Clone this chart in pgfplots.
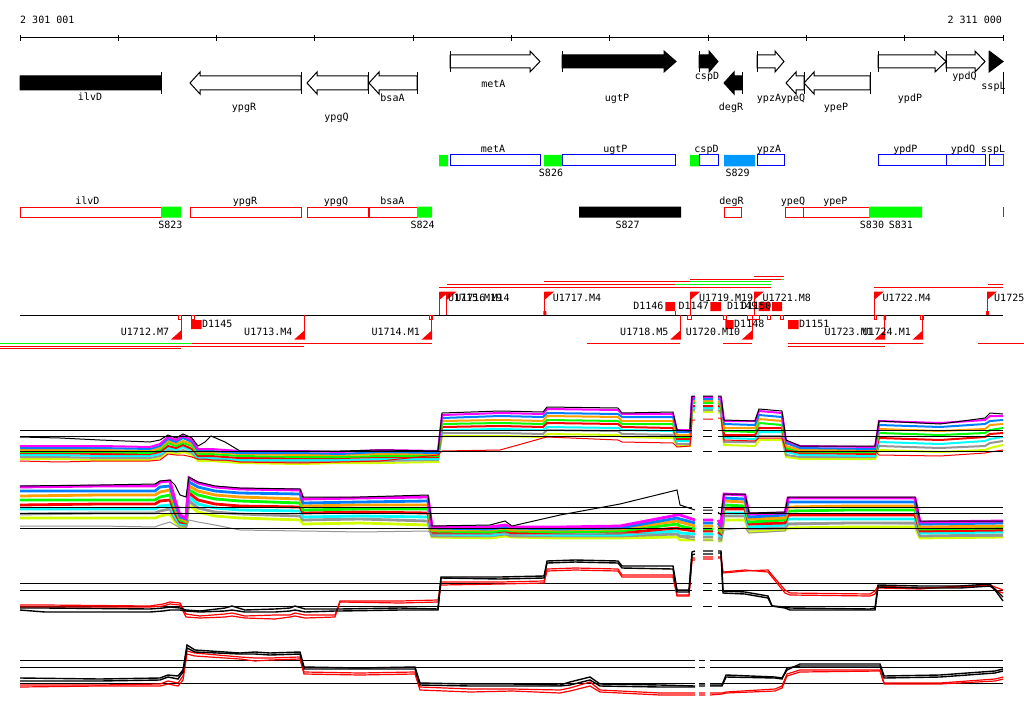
\documentclass[border=0pt]{standalone}
\usepackage{pgfplots}
\usepackage{pgfplotstable}
\usepackage{fontspec}
\setmonofont{DejaVu Sans Mono}
\pgfplotsset{compat=1.18}
\definecolor{cmag}{RGB}{255,0,255}
\definecolor{clime}{RGB}{0,255,0}
\definecolor{cblu}{RGB}{0,128,255}
\definecolor{corg}{RGB}{255,160,0}
\definecolor{cred}{RGB}{255,0,0}
\definecolor{ccyn}{RGB}{0,255,255}
\definecolor{cgry}{RGB}{150,150,150}
\definecolor{cylw}{RGB}{210,255,0}
\definecolor{cgbl}{RGB}{0,0,255}
\definecolor{csky}{RGB}{0,153,255}
\tikzset{lab/.style={font=\fontsize{10}{12}\selectfont\ttfamily, inner sep=0pt}}

\pgfplotstableread{
x k b1 b2 b3 b4 b5 b6 b7 b8 r
20 437 446 448 450 452 453 455 457 459 461
60 438 446 448 450 452 453 455 457 459 462
100 440 446 448 450 452 454 456 458 460 461
150 442 447 449 451 453 454 456 458 460 461
160 440 444 446 448 450 452 454 456 458 460
168 435 437 439 441 443 446 448 450 452 454
176 438 440 442 444 446 448 450 452 454 455
183 434 436 438 441 443 445 447 450 452 455
192 438 440 442 444 446 449 451 453 455 457
198 446 449 451 452 454 456 458 459 461 459
205 442 449 451 452 454 456 458 459 461 459
211 436 449 451 452 454 456 458 459 461 460
225 442 450 452 453 455 457 459 460 462 460
240 451 451 453 454 456 458 460 461 463 462
300 451 451 453 455 457 458 460 462 464 463
340 451 452 454 455 457 458 460 461 463 462
380 450 450 452 454 456 457 459 461 463 461
438 451 451 453 454 456 457 459 460 462 455
442 413 415 418 421 424 427 430 433 436 451
500 411 413 416 420 423 426 429 433 436 450
543 412 414 417 421 424 427 430 434 437 438
547 407 409 413 416 420 423 427 430 434 437
618 408 410 414 417 421 424 428 431 435 440
622 413 414 417 421 424 427 430 434 437 442
673 412 414 417 421 424 428 431 435 438 443
677 430 430 432 435 437 439 441 444 446 447
690 431 430 432 435 437 439 441 444 446 446
692 396 397 399 401 403 406 408 410 412 420
695 396 397 399 401 403 406 408 410 412 420
699 nan nan nan nan nan nan nan nan nan nan
703 396 397 399 401 403 406 408 410 412 419
713 396 397 399 401 403 406 408 410 412 419
715 nan nan nan nan nan nan nan nan nan nan
718 396 397 399 401 403 406 408 410 412 418
721 396 398 400 403 405 407 409 412 414 418
724 420 421 424 428 431 435 438 442 445 440
755 421 421 425 428 432 435 439 442 446 441
759 409 411 415 419 423 428 432 436 440 438
782 411 413 417 421 425 428 432 436 440 438
786 440 441 443 446 448 450 452 455 457 450
800 446 446 448 450 452 453 455 457 459 452
875 446 447 449 450 452 454 456 457 459 451
879 421 421 425 429 433 438 442 446 450 455
940 424 423 427 431 435 440 444 448 452 456
985 418 420 424 429 433 437 441 446 450 453
990 413 416 421 425 430 434 439 443 448 452
1003 414 416 420 424 428 433 437 441 445 450
}\tone

\pgfplotstableread{
x k b1 b2 b3 b4 b5 b6 b7 b8 r
20 486 487 491 496 500 505 509 514 518 526
100 485 486 491 495 500 504 509 513 518 526
155 484 486 491 495 500 504 509 513 518 527
160 481 482 487 492 497 501 506 511 516 525
170 480 481 486 490 495 500 505 509 514 522
175 485 500 503 506 509 513 516 519 522 525
180 495 515 517 518 520 522 524 525 527 528
186 497 518 519 521 522 523 524 526 527 528
189 477 478 482 486 490 493 497 501 505 520
198 482 483 487 491 495 500 504 508 512 522
215 486 487 491 495 499 504 508 512 516 525
240 488 489 493 497 501 506 510 514 518 530
300 489 490 494 499 503 507 511 516 520 531
303 497 499 503 506 510 513 517 520 524 531
360 497 498 502 505 509 512 516 519 523 532
428 495 497 501 505 509 513 517 521 525 531
432 526 527 528 530 531 533 534 536 537 534
490 525 527 529 530 532 533 535 536 538 534
505 521 525 527 528 530 531 533 534 536 533
512 526 527 528 530 531 533 534 536 537 535
560 515 527 529 530 532 533 535 536 538 534
620 504 526 528 529 531 533 535 536 538 533
677 490 515 518 521 524 528 531 534 537 535
680 505 515 519 522 526 529 533 536 540 537
695 510 520 523 526 529 531 534 537 540 540
699 nan nan nan nan nan nan nan nan nan nan
703 510 520 523 526 529 531 534 537 540 540
713 510 520 523 526 529 531 534 537 540 540
715 nan nan nan nan nan nan nan nan nan nan
718 512 520 523 526 529 532 535 538 541 541
721 515 525 527 530 532 534 536 539 541 541
724 494 494 498 501 505 509 513 516 520 530
745 494 495 499 502 506 509 513 516 520 528
749 513 514 517 519 522 524 527 529 532 533
785 512 513 515 518 520 523 525 528 530 531
788 497 498 502 507 511 515 519 524 528 523
850 497 498 502 506 510 515 519 523 527 523
915 497 498 502 506 510 515 519 523 527 524
920 521 522 524 527 529 531 533 536 538 536
1003 521 521 523 526 528 530 532 535 537 536
}\ttwo

\pgfplotstableread{
x k1 k2 r1 r2
20 608 610 605 607
45 608 612 605 607
150 609 612 606 607
163 608 611 604 606
170 607 610 602 604
180 608 610 603 605
186 610 611 614 617
200 611 612 616 618
225 608 611 614 617
232 606 610 613 616
245 610 612 616 618
275 609 612 615 619
290 608 611 615 617
295 606 610 613 616
305 609 612 615 618
335 609 611 615 617
340 609 611 601 602
400 608 610 601 603
438 609 610 600 602
441 578 577 582 585
500 579 577 582 584
544 578 576 581 583
547 561 563 569 571
575 560 562 568 570
618 561 563 569 571
622 566 568 575 577
673 566 569 575 577
677 590 592 595 596
689 590 592 595 596
692 552 555 558 560
695 551 554 558 560
699 nan nan nan nan
703 551 554 557 559
713 551 554 557 559
715 nan nan nan nan
718 551 553 557 558
721 551 553 557 558
723 591 593 573 572
745 592 594 571 570
768 596 598 570 572
772 606 606 575 577
785 607 608 590 593
790 608 610 593 595
870 609 610 594 596
875 608 610 591 594
878 585 587 586 588
920 586 588 588 589
960 586 588 587 586
990 584 586 585 586
995 590 589 587 590
1003 601 597 590 593
}\tthree

\pgfplotstableread{
x k1 k2 r1 r2
20 678 681 685 687
100 679 681 685 686
160 678 680 684 686
168 675 677 681 684
178 676 679 683 686
183 670 672 676 680
187 645 648 651 654
195 650 652 653 656
240 653 654 657 659
255 652 654 658 661
270 653 655 658 660
300 652 654 657 659
304 667 669 672 674
360 668 669 673 675
415 667 669 672 674
420 683 685 687 690
470 684 686 689 692
512 684 686 689 691
560 685 686 690 693
570 682 685 688 691
590 677 680 682 686
600 684 686 690 692
660 685 687 693 695
695 686 687 693 695
697 nan nan nan nan
699 684 686 693 695
705 684 686 693 695
707 nan nan nan nan
710 685 686 693 695
722 685 686 693 694
726 675 677 692 693
775 677 678 689 691
782 678 679 686 688
787 670 668 674 676
800 664 666 670 672
880 664 666 670 671
884 676 678 683 684
940 675 677 683 684
995 671 673 679 681
1003 669 671 677 679
}\tfour

\begin{document}
\begin{tikzpicture}
\begin{axis}[scale only axis, width=1024pt, height=714pt,
  xmin=0, xmax=1024, ymin=0, ymax=714, y dir=reverse,
  hide axis, clip=false, unbounded coords=jump, no markers]

% background
\addplot[fill=white, draw=none] coordinates {(0,0)(1024,0)(1024,714)(0,714)(0,0)};

% ruler
\addplot[black, line width=1pt] coordinates {(20,38)(1003,38)};
\addplot[black, line width=1pt] coordinates {(20,35)(20,41.5)(0,nan)(118.3,35)(118.3,41.5)(0,nan)(216.6,35)(216.6,41.5)(0,nan)(314.9,35)(314.9,41.5)(0,nan)(413.2,35)(413.2,41.5)(0,nan)(511.5,35)(511.5,41.5)(0,nan)(609.8,35)(609.8,41.5)(0,nan)(708.1,35)(708.1,41.5)(0,nan)(806.4,35)(806.4,41.5)(0,nan)(904.7,35)(904.7,41.5)(0,nan)(1003,35)(1003,41.5)};
\node[lab, anchor=base west] at (axis cs:20,24) {2 301 001};
\node[lab, anchor=base east] at (axis cs:1002,24) {2 311 000};

% gene arrows: white
\addplot[fill=white, draw=black, line width=1pt] coordinates {
(450,55)(530,55)(530,51)(540,61.5)(530,72)(530,68)(450,68)(450,55)(0,nan)
(757,55)(775,55)(775,51)(784,61.5)(775,72)(775,68)(757,68)(757,55)(0,nan)
(878,55)(935,55)(935,51)(946,61.5)(935,72)(935,68)(878,68)(878,55)(0,nan)
(946,55)(975,55)(975,51)(985,61.5)(975,72)(975,68)(946,68)(946,55)(0,nan)
(301,76)(200,76)(200,72)(190,83)(200,94)(200,90)(301,90)(301,76)(0,nan)
(368,76)(317,76)(317,72)(307,83)(317,94)(317,90)(368,90)(368,76)(0,nan)
(417,76)(379,76)(379,72)(369,83)(379,94)(379,90)(417,90)(417,76)(0,nan)
(804,76)(796,76)(796,72)(786,83)(796,94)(796,90)(804,90)(804,76)(0,nan)
(870,76)(814,76)(814,72)(804,83)(814,94)(814,90)(870,90)(870,76)};
% gene arrows: black
\addplot[fill=black, draw=black, line width=1pt] coordinates {
(562,55)(664,55)(664,51)(676,61.5)(664,72)(664,68)(562,68)(562,55)(0,nan)
(699,55)(709,55)(709,51)(718,61.5)(709,72)(709,68)(699,68)(699,55)(0,nan)
(989,51)(1003,61.5)(989,72)(989,51)(0,nan)
(20,76)(161,76)(161,90)(20,90)(20,76)(0,nan)
(742,76)(734,76)(734,72)(724,83)(734,94)(734,90)(742,90)(742,76)};
% start bars
\addplot[black, line width=1pt] coordinates {
(450,51)(450,72)(0,nan)(562,51)(562,72)(0,nan)(699,51)(699,72)(0,nan)(757,51)(757,72)(0,nan)(878,51)(878,72)(0,nan)(946,51)(946,72)(0,nan)
(161,72)(161,94)(0,nan)(301,72)(301,94)(0,nan)(368,72)(368,94)(0,nan)(417,72)(417,94)(0,nan)(742,72)(742,94)(0,nan)(804,72)(804,94)(0,nan)(870,72)(870,94)(0,nan)(1003,72)(1003,94)};
\node[lab, anchor=base] at (axis cs:90,100.7) {ilvD};
\node[lab, anchor=base] at (axis cs:244,110.7) {ypgR};
\node[lab, anchor=base] at (axis cs:336.5,120.7) {ypgQ};
\node[lab, anchor=base] at (axis cs:392.5,101.7) {bsaA};
\node[lab, anchor=base] at (axis cs:493.3,88) {metA};
\node[lab, anchor=base] at (axis cs:617,101.7) {ugtP};
\node[lab, anchor=base] at (axis cs:707,80) {cspD};
\node[lab, anchor=base] at (axis cs:731,111) {degR};
\node[lab, anchor=base] at (axis cs:769,101.7) {ypzA};
\node[lab, anchor=base] at (axis cs:793,101.7) {ypeQ};
\node[lab, anchor=base] at (axis cs:836,111) {ypeP};
\node[lab, anchor=base] at (axis cs:910,101.7) {ypdP};
\node[lab, anchor=base] at (axis cs:964.5,79.7) {ypdQ};
\node[lab, anchor=base] at (axis cs:993.5,89.5) {sspL};

% row 2
\addplot[draw=cgbl, line width=1pt] coordinates {
(450,155)(540,155)(540,166)(450,166)(450,155)(0,nan)
(562,155)(675,155)(675,166)(562,166)(562,155)(0,nan)
(699,155)(718,155)(718,166)(699,166)(699,155)(0,nan)
(757,155)(784,155)(784,166)(757,166)(757,155)(0,nan)
(878,155)(946,155)(946,166)(878,166)(878,155)(0,nan)
(946,155)(985,155)(985,166)(946,166)(946,155)(0,nan)
(989,155)(1003,155)(1003,166)(989,166)(989,155)};
\addplot[fill=clime, draw=none] coordinates {
(439,155)(448,155)(448,166.5)(439,166.5)(439,155)(0,nan)
(544,155)(562,155)(562,166.5)(544,166.5)(544,155)(0,nan)
(690,155)(699,155)(699,166.5)(690,166.5)(690,155)};
\addplot[fill=csky, draw=none] coordinates {(724,155)(755,155)(755,166.5)(724,166.5)(724,155)};
\addplot[cred, line width=1pt] coordinates {(1003,155)(1003,166)};
\node[lab, anchor=base] at (axis cs:493,152.7) {metA};
\node[lab, anchor=base] at (axis cs:615.4,152.7) {ugtP};
\node[lab, anchor=base] at (axis cs:706.5,152.7) {cspD};
\node[lab, anchor=base] at (axis cs:769,152.7) {ypzA};
\node[lab, anchor=base] at (axis cs:905.4,152.7) {ypdP};
\node[lab, anchor=base] at (axis cs:963,152.7) {ypdQ};
\node[lab, anchor=base] at (axis cs:993,152.7) {sspL};
\node[lab, anchor=base] at (axis cs:551,176.5) {S826};
\node[lab, anchor=base] at (axis cs:737.7,176.5) {S829};

% row 3
\addplot[draw=cred, line width=1pt] coordinates {
(20,207)(161,207)(161,217)(20,217)(20,207)(0,nan)
(190,207)(301,207)(301,217)(190,217)(190,207)(0,nan)
(307,207)(368,207)(368,217)(307,217)(307,207)(0,nan)
(369,207)(417,207)(417,217)(369,217)(369,207)(0,nan)
(724,207)(741,207)(741,217)(724,217)(724,207)(0,nan)
(785,207)(803.5,207)(803.5,217)(785,217)(785,207)(0,nan)
(803.5,207)(869,207)(869,217)(803.5,217)(803.5,207)(0,nan)
(1003,207)(1003,217)};
\addplot[fill=clime, draw=none] coordinates {
(161,206.5)(181,206.5)(181,217.5)(161,217.5)(161,206.5)(0,nan)
(417,206.5)(432,206.5)(432,217.5)(417,217.5)(417,206.5)(0,nan)
(869,206.5)(922,206.5)(922,217.5)(869,217.5)(869,206.5)};
\addplot[fill=black, draw=none] coordinates {(579,206.5)(681,206.5)(681,217.5)(579,217.5)(579,206.5)};
\node[lab, anchor=base] at (axis cs:87.3,204.5) {ilvD};
\node[lab, anchor=base] at (axis cs:245,204.5) {ypgR};
\node[lab, anchor=base] at (axis cs:336,204.5) {ypgQ};
\node[lab, anchor=base] at (axis cs:392.3,204.5) {bsaA};
\node[lab, anchor=base] at (axis cs:731.5,204.5) {degR};
\node[lab, anchor=base] at (axis cs:793,204.5) {ypeQ};
\node[lab, anchor=base] at (axis cs:835.4,204.5) {ypeP};
\node[lab, anchor=base] at (axis cs:170.3,228) {S823};
\node[lab, anchor=base] at (axis cs:422.7,228) {S824};
\node[lab, anchor=base] at (axis cs:627.7,228) {S827};
\node[lab, anchor=base] at (axis cs:872,228) {S830};
\node[lab, anchor=base] at (axis cs:900.8,228) {S831};

% segment track
\addplot[cred, line width=1pt] coordinates {
(754,276)(784,276)(0,nan)(690,279)(781,279)(0,nan)(544,281.5)(690,281.5)(0,nan)
(447,284.5)(675,284.5)(0,nan)(988,284.5)(1003,284.5)(0,nan)(439,287)(771,287)(0,nan)(874,287)(1003,287)(0,nan)
(191.7,343.5)(431.7,343.5)(0,nan)(587,343.5)(680,343.5)(0,nan)(723,343.5)(752,343.5)(0,nan)(788,343.5)(922.7,343.5)(0,nan)(978,343.5)(1024,343.5)(0,nan)
(0,346)(304.3,346)(0,nan)(788,346)(884.7,346)(0,nan)(0,348.5)(181,348.5)};
\addplot[clime, line width=1pt] coordinates {
(781,279)(784,279)(0,nan)(690,281.5)(771,281.5)(0,nan)(675,284.5)(771,284.5)(0,nan)(0,343.5)(191.7,343.5)};
\addplot[black, line width=1pt] coordinates {(20,315)(1003,315)};
% up flags
\addplot[cred, line width=1pt] coordinates {
(439.3,315)(439.3,292)(0,nan)(446.7,315)(446.7,292)(0,nan)(544.3,315)(544.3,292)(0,nan)(690.3,315)(690.3,292)(0,nan)(754,315)(754,292)(0,nan)(874,315)(874,292)(0,nan)(987,315)(987,292)};
\addplot[fill=cred, draw=none] coordinates {
(439.3,291.5)(449.3,291.5)(439.3,300)(439.3,291.5)(0,nan)
(446.7,291.5)(456.7,291.5)(446.7,300)(446.7,291.5)(0,nan)
(544.3,291.5)(554.3,291.5)(544.3,300)(544.3,291.5)(0,nan)
(690.3,291.5)(700.3,291.5)(690.3,300)(690.3,291.5)(0,nan)
(754,291.5)(764,291.5)(754,300)(754,291.5)(0,nan)
(874,291.5)(884,291.5)(874,300)(874,291.5)(0,nan)
(987,291.5)(997,291.5)(987,300)(987,291.5)(0,nan)
(543.3,311)(546.3,311)(546.3,315)(543.3,315)(543.3,311)(0,nan)
(986,311)(989,311)(989,315)(986,315)(986,311)};
% down flags
\addplot[cred, line width=1pt] coordinates {
(181,315)(181,339)(0,nan)(304.3,315)(304.3,339)(0,nan)(431.7,315)(431.7,339)(0,nan)(680.3,315)(680.3,339)(0,nan)(752,315)(752,339)(0,nan)(884.7,315)(884.7,339)(0,nan)(922.7,315)(922.7,339)(0,nan)(675,311)(675,315)};
\addplot[fill=cred, draw=none] coordinates {
(171,339.5)(181.5,339.5)(181.5,330)(171,339.5)(0,nan)
(294.3,339.5)(304.8,339.5)(304.8,330)(294.3,339.5)(0,nan)
(421.7,339.5)(432.2,339.5)(432.2,330)(421.7,339.5)(0,nan)
(670.3,339.5)(680.8,339.5)(680.8,330)(670.3,339.5)(0,nan)
(742,339.5)(752.5,339.5)(752.5,330)(742,339.5)(0,nan)
(874.7,339.5)(885.2,339.5)(885.2,330)(874.7,339.5)(0,nan)
(912.7,339.5)(923.2,339.5)(923.2,330)(912.7,339.5)(0,nan)
(883.5,315)(886,315)(886,320)(883.5,320)(883.5,315)};
% D boxes
\addplot[fill=cred, draw=none] coordinates {
(665.3,302)(675,302)(675,311)(665.3,311)(665.3,302)(0,nan)
(710.3,302)(721,302)(721,311)(710.3,311)(710.3,302)(0,nan)
(758.7,302)(770,302)(770,311)(758.7,311)(758.7,302)(0,nan)
(772,302)(782,302)(782,311)(772,311)(772,302)(0,nan)
(191,320)(201.7,320)(201.7,329)(191,329)(191,320)(0,nan)
(725.3,320)(733.7,320)(733.7,329)(725.3,329)(725.3,320)(0,nan)
(788,320)(798.7,320)(798.7,329)(788,329)(788,320)};
\addplot[draw=cred, line width=0.8pt] coordinates {
(178,315)(181,315)(181,319)(178,319)(178,315)(0,nan)
(191,315)(194,315)(194,319)(191,319)(191,315)(0,nan)
(429,315)(432,315)(432,319)(429,319)(429,315)(0,nan)
(687,315)(691,315)(691,319)(687,319)(687,315)(0,nan)
(723,315)(726,315)(726,319)(723,319)(723,315)(0,nan)
(747,315)(759,315)(759,319)(747,319)(747,315)(0,nan)
(767,315)(770,315)(770,319)(767,319)(767,315)(0,nan)
(780,315)(783,315)(783,319)(780,319)(780,315)(0,nan)
(874,315)(876,315)(876,319)(874,319)(874,315)(0,nan)
(920,315)(923,315)(923,319)(920,319)(920,315)};
\node[lab, anchor=base west] at (axis cs:447.8,301.2) {U1715.M19};
\node[lab, anchor=base west] at (axis cs:455.2,301.2) {U1716.M14};
\node[lab, anchor=base west] at (axis cs:552.7,301.2) {U1717.M4};
\node[lab, anchor=base west] at (axis cs:698.8,301.2) {U1719.M19};
\node[lab, anchor=base west] at (axis cs:762.5,301.2) {U1721.M8};
\node[lab, anchor=base west] at (axis cs:882.5,301.2) {U1722.M4};
\node[lab, anchor=base west] at (axis cs:994,301.2) {U1725};
\node[lab, anchor=base east] at (axis cs:169.3,335.7) {U1712.M7};
\node[lab, anchor=base east] at (axis cs:292.6,335.7) {U1713.M4};
\node[lab, anchor=base east] at (axis cs:420,335.7) {U1714.M1};
\node[lab, anchor=base east] at (axis cs:668.6,335.7) {U1718.M5};
\node[lab, anchor=base east] at (axis cs:740.3,335.7) {U1720.M10};
\node[lab, anchor=base east] at (axis cs:873,335.7) {U1723.M1};
\node[lab, anchor=base east] at (axis cs:911,335.7) {U1724.M1};
\node[lab, anchor=base east] at (axis cs:663.7,309.4) {D1146};
\node[lab, anchor=base east] at (axis cs:709,309.4) {D1147};
\node[lab, anchor=base east] at (axis cs:757.5,309.4) {D1149};
\node[lab, anchor=base east] at (axis cs:771.5,309.4) {D1150};
\node[lab, anchor=base west] at (axis cs:202,327.7) {D1145};
\node[lab, anchor=base west] at (axis cs:734,327.7) {D1148};
\node[lab, anchor=base west] at (axis cs:799,327.7) {D1151};

% track 1
\addplot[cylw, line width=2pt] table[x=x,y=b8]{\tone};
\addplot[cgry, line width=2pt] table[x=x,y=b7]{\tone};
\addplot[ccyn, line width=2pt] table[x=x,y=b6]{\tone};
\addplot[cred, line width=2pt] table[x=x,y=b5]{\tone};
\addplot[clime, line width=2pt] table[x=x,y=b4]{\tone};
\addplot[corg, line width=2pt] table[x=x,y=b3]{\tone};
\addplot[cblu, line width=2pt] table[x=x,y=b2]{\tone};
\addplot[cmag, line width=2pt] table[x=x,y=b1]{\tone};
\addplot[cred, line width=1pt] table[x=x,y=r]{\tone};
\addplot[black, line width=1pt] table[x=x,y=k]{\tone};
% track 2
\addplot[cylw, line width=2.8pt] table[x=x,y=b8]{\ttwo};
\addplot[cgry, line width=2.8pt] table[x=x,y=b7]{\ttwo};
\addplot[ccyn, line width=2.8pt] table[x=x,y=b6]{\ttwo};
\addplot[cred, line width=2.8pt] table[x=x,y=b5]{\ttwo};
\addplot[clime, line width=2.8pt] table[x=x,y=b4]{\ttwo};
\addplot[corg, line width=2.8pt] table[x=x,y=b3]{\ttwo};
\addplot[cblu, line width=2.8pt] table[x=x,y=b2]{\ttwo};
\addplot[cmag, line width=2.8pt] table[x=x,y=b1]{\ttwo};
\addplot[cgry, line width=1pt] table[x=x,y=r]{\ttwo};
\addplot[black, line width=1pt] table[x=x,y=k]{\ttwo};
% reference lines
\addplot[black, line width=1pt] coordinates {
(20,430)(692,430)(0,nan)(703,430)(712,430)(0,nan)(718,430)(1003,430)(0,nan)
(20,436)(692,436)(0,nan)(703,436)(712,436)(0,nan)(718,436)(1003,436)(0,nan)
(20,451)(692,451)(0,nan)(703,451)(712,451)(0,nan)(718,451)(1003,451)(0,nan)
(20,507.3)(692,507.3)(0,nan)(703,507.3)(712,507.3)(0,nan)(718,507.3)(1003,507.3)(0,nan)
(20,513.3)(692,513.3)(0,nan)(703,513.3)(712,513.3)(0,nan)(718,513.3)(1003,513.3)(0,nan)
(20,528.3)(692,528.3)(0,nan)(703,528.3)(712,528.3)(0,nan)(718,528.3)(1003,528.3)(0,nan)
(20,583.3)(692,583.3)(0,nan)(703,583.3)(712,583.3)(0,nan)(718,583.3)(1003,583.3)(0,nan)
(20,590.3)(692,590.3)(0,nan)(703,590.3)(712,590.3)(0,nan)(718,590.3)(1003,590.3)(0,nan)
(20,606.3)(692,606.3)(0,nan)(703,606.3)(712,606.3)(0,nan)(718,606.3)(1003,606.3)(0,nan)
(20,660)(695,660)(0,nan)(699,660)(705,660)(0,nan)(710,660)(1003,660)(0,nan)
(20,667.3)(695,667.3)(0,nan)(699,667.3)(705,667.3)(0,nan)(710,667.3)(1003,667.3)(0,nan)
(20,683.3)(695,683.3)(0,nan)(699,683.3)(705,683.3)(0,nan)(710,683.3)(1003,683.3)};
% track 3
\addplot[cred, line width=1.2pt] table[x=x,y=r2]{\tthree};
\addplot[cred, line width=1.2pt] table[x=x,y=r1]{\tthree};
\addplot[black, line width=1.4pt] table[x=x,y=k2]{\tthree};
\addplot[black, line width=1.4pt] table[x=x,y=k1]{\tthree};
% track 4
\addplot[cred, line width=1.2pt] table[x=x,y=r2]{\tfour};
\addplot[cred, line width=1.2pt] table[x=x,y=r1]{\tfour};
\addplot[black, line width=1.4pt] table[x=x,y=k2]{\tfour};
\addplot[black, line width=1.4pt] table[x=x,y=k1]{\tfour};
\end{axis}
\pgfresetboundingbox
\path[use as bounding box] (current axis.south west) rectangle (current axis.north east);
\end{tikzpicture}
\end{document}
